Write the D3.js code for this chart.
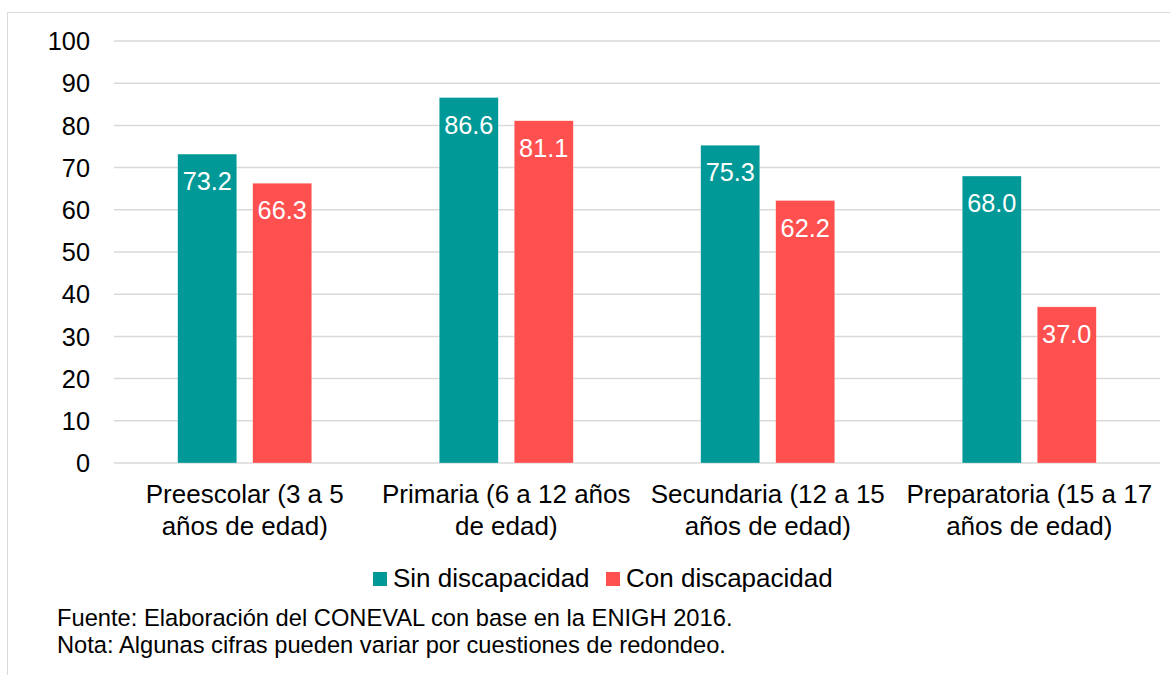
<!DOCTYPE html>
<html><head><meta charset="utf-8">
<script src="https://cdn.jsdelivr.net/npm/d3@7"></script>
<style>body{margin:0;background:#fff}svg{display:block;font-family:"Liberation Sans",Arial,sans-serif}</style>
</head><body>
<svg id="c" width="1170" height="675"></svg>
<script>
const categories = [["Preescolar (3 a 5","años de edad)"],["Primaria (6 a 12 años","de edad)"],["Secundaria (12 a 15","años de edad)"],["Preparatoria (15 a 17","años de edad)"]];
const seriesNames = ["Sin discapacidad","Con discapacidad"];
const sinValues = [73.2, 86.6, 75.3, 68.0];
const conValues = [66.3, 81.1, 62.2, 37.0];
const yTicks = [0,10,20,30,40,50,60,70,80,90,100];
const colors = ["#009997","#FF5050"];
const notes = ["Fuente: Elaboración del CONEVAL con base en la ENIGH 2016.","Nota: Algunas cifras pueden variar por cuestiones de redondeo."];

const svg = d3.select("#c");
svg.append("rect").attr("x",7.5).attr("y",12.5).attr("width",1200).attr("height",700).attr("fill","none").attr("stroke","#d9d9d9").attr("stroke-width",1);

const x0 = d3.scaleBand().domain(d3.range(4)).range([114,1160]).paddingInner(0).paddingOuter(0);
const x1 = d3.scaleBand().domain([0,1]).range([0,x0.bandwidth()]).paddingInner(0.2133).paddingOuter(0.85);
const y = d3.scaleLinear().domain([0,100]).range([463,41]);

const g = svg.append("g");
g.selectAll("line.grid").data(yTicks).join("line").attr("class","grid")
 .attr("x1",114).attr("x2",1160).attr("y1",d=>y(d)).attr("y2",d=>y(d))
 .attr("stroke","#d9d9d9").attr("stroke-width",1.5);

g.selectAll("text.yt").data(yTicks).join("text").attr("class","yt")
 .attr("x",90).attr("y",d=>y(d)).attr("dy","0.36em").attr("text-anchor","end")
 .attr("font-size",25.3).attr("fill","#000").text(d=>d);

const data = [];
categories.forEach((c,i)=>{data.push({c:i,s:0,v:sinValues[i]});data.push({c:i,s:1,v:conValues[i]});});

g.selectAll("rect.bar").data(data).join("rect").attr("class","bar")
 .attr("x",d=>x0(d.c)+x1(d.s)).attr("width",x1.bandwidth())
 .attr("y",d=>y(d.v)).attr("height",d=>y(0)-y(d.v))
 .attr("fill",d=>colors[d.s]).attr("stroke","#fff").attr("stroke-opacity",0.5).attr("stroke-width",0.5);

g.selectAll("text.lbl").data(data).join("text").attr("class","lbl")
 .attr("x",d=>x0(d.c)+x1(d.s)+x1.bandwidth()/2).attr("y",d=>y(d.v)+27).attr("dy","0.36em")
 .attr("text-anchor","middle").attr("font-size",25.3).attr("fill","#fff").text(d=>d.v.toFixed(1));

categories.forEach((c,i)=>{
  c.forEach((line,j)=>{
    g.append("text").attr("x",x0(i)+x0.bandwidth()/2).attr("y",494+j*32).attr("dy","0.36em")
     .attr("text-anchor","middle").attr("font-size",26).attr("fill","#000").text(line);
  });
});

// legend
const leg = svg.append("g");
const legItems = [{x:373,name:seriesNames[0],col:colors[0]},{x:606,name:seriesNames[1],col:colors[1]}];
legItems.forEach(it=>{
  leg.append("rect").attr("x",it.x).attr("y",572).attr("width",14).attr("height",14).attr("fill",it.col);
  leg.append("text").attr("x",it.x+20).attr("y",578).attr("dy","0.36em").attr("font-size",26).attr("fill","#000").text(it.name);
});

notes.forEach((n,i)=>{
  svg.append("text").attr("x",57).attr("y",617+i*27).attr("dy","0.36em").attr("font-size",23.7).attr("fill","#000").text(n);
});
</script>
</body></html>
